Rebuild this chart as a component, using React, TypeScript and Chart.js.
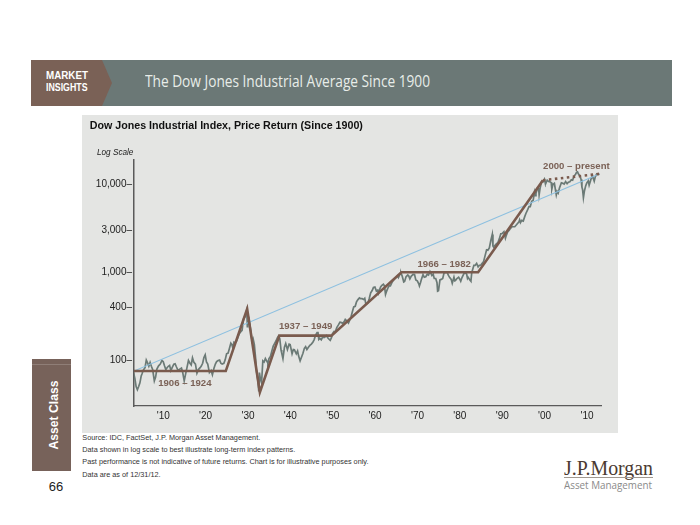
import React, { useEffect, useLayoutEffect, useRef } from "react";
import { Chart, registerables } from "chart.js";

Chart.register(...registerables);

// ---------- data ----------
const xTickYears = [1910, 1920, 1930, 1940, 1950, 1960, 1970, 1980, 1990, 2000, 2010];
const yTickValues = [100, 400, 1000, 3000, 10000];

// Dow Jones Industrial Average, [year, index level]
const dowPoints: [number, number][] = [
  [1903.0, 72], [1903.3, 62], [1903.6, 50], [1903.9, 46], [1904.2, 50], [1904.5, 55], [1904.8, 66],
  [1905.0, 70], [1905.3, 77], [1905.7, 82], [1906.0, 100], [1906.3, 93], [1906.6, 85], [1906.9, 94],
  [1907.2, 85], [1907.5, 78], [1907.9, 58], [1908.2, 64], [1908.5, 79], [1908.9, 86], [1909.3, 90],
  [1909.7, 99], [1910.0, 96], [1910.3, 86], [1910.6, 78], [1910.9, 82], [1911.2, 85], [1911.5, 87],
  [1911.8, 76], [1912.1, 82], [1912.5, 90], [1912.8, 91], [1913.1, 84], [1913.5, 76], [1913.9, 79],
  [1914.3, 81], [1914.6, 72], [1914.95, 58], [1915.3, 70], [1915.6, 82], [1915.95, 99], [1916.3, 92],
  [1916.6, 88], [1916.9, 106], [1917.2, 95], [1917.6, 90], [1917.95, 71], [1918.3, 78], [1918.7, 82],
  [1918.95, 85], [1919.3, 92], [1919.6, 107], [1919.9, 115], [1920.2, 95], [1920.5, 90], [1920.9, 72],
  [1921.3, 76], [1921.6, 68], [1921.95, 80], [1922.3, 90], [1922.6, 96], [1922.95, 99], [1923.3, 100],
  [1923.6, 92], [1923.9, 90], [1924.3, 92], [1924.6, 100], [1924.95, 118], [1925.3, 120], [1925.6, 135],
  [1925.95, 156], [1926.2, 150], [1926.4, 138], [1926.7, 160], [1926.95, 157], [1927.3, 165],
  [1927.6, 180], [1927.95, 200], [1928.3, 210], [1928.6, 218], [1928.95, 295], [1929.3, 310],
  [1929.7, 370], [1929.85, 240], [1929.95, 248], [1930.3, 285], [1930.6, 225], [1930.95, 165],
  [1931.2, 175], [1931.5, 150], [1931.8, 105], [1931.95, 78], [1932.3, 60], [1932.55, 44],
  [1932.7, 72], [1932.95, 60], [1933.2, 55], [1933.5, 98], [1933.8, 95], [1934.1, 104], [1934.5, 96],
  [1934.7, 92], [1934.95, 104], [1935.3, 110], [1935.6, 125], [1935.95, 144], [1936.3, 155],
  [1936.6, 165], [1936.95, 180], [1937.2, 188], [1937.5, 175], [1937.8, 130], [1937.95, 121],
  [1938.25, 104], [1938.6, 140], [1938.9, 154], [1939.3, 132], [1939.7, 152], [1939.95, 150],
  [1940.4, 118], [1940.7, 132], [1940.95, 131], [1941.4, 118], [1941.7, 127], [1941.95, 111],
  [1942.3, 98], [1942.6, 107], [1942.95, 119], [1943.3, 136], [1943.6, 142], [1943.9, 132],
  [1944.3, 141], [1944.6, 147], [1944.95, 152], [1945.3, 160], [1945.6, 170], [1945.95, 192],
  [1946.3, 205], [1946.5, 210], [1946.7, 172], [1946.95, 177], [1947.3, 170], [1947.6, 183],
  [1947.95, 181], [1948.3, 185], [1948.5, 190], [1948.9, 177], [1949.4, 168], [1949.7, 180],
  [1949.95, 200], [1950.3, 212], [1950.6, 210], [1950.95, 235], [1951.3, 250], [1951.7, 270],
  [1951.95, 269], [1952.3, 262], [1952.7, 275], [1952.95, 291], [1953.3, 280], [1953.7, 264],
  [1953.95, 281], [1954.3, 310], [1954.6, 350], [1954.95, 404], [1955.3, 410], [1955.6, 460],
  [1955.95, 488], [1956.3, 510], [1956.6, 500], [1956.95, 500], [1957.3, 490], [1957.55, 505],
  [1957.8, 440], [1957.95, 436], [1958.3, 450], [1958.6, 500], [1958.95, 584], [1959.3, 620],
  [1959.6, 670], [1959.95, 679], [1960.3, 610], [1960.6, 625], [1960.8, 580], [1960.95, 616],
  [1961.3, 680], [1961.6, 710], [1961.95, 731], [1962.2, 700], [1962.45, 560], [1962.6, 590],
  [1962.95, 652], [1963.3, 700], [1963.6, 700], [1963.95, 763], [1964.3, 810], [1964.6, 840],
  [1964.95, 874], [1965.3, 910], [1965.5, 870], [1965.95, 969], [1966.1, 985], [1966.4, 900],
  [1966.75, 775], [1966.95, 786], [1967.3, 890], [1967.7, 930], [1967.95, 905], [1968.2, 840],
  [1968.5, 900], [1968.95, 944], [1969.3, 940], [1969.6, 820], [1969.95, 800], [1970.3, 740],
  [1970.45, 700], [1970.7, 760], [1970.95, 839], [1971.3, 940], [1971.6, 880], [1971.95, 890],
  [1972.3, 950], [1972.6, 930], [1972.95, 1020], [1973.05, 1000], [1973.4, 920], [1973.7, 950],
  [1973.95, 850], [1974.3, 850], [1974.6, 760], [1974.75, 610], [1974.95, 616], [1975.3, 820],
  [1975.6, 830], [1975.95, 852], [1976.3, 1000], [1976.6, 990], [1976.95, 1005], [1977.3, 920],
  [1977.6, 870], [1977.95, 831], [1978.2, 750], [1978.6, 880], [1978.8, 800], [1978.95, 805],
  [1979.3, 850], [1979.7, 880], [1979.95, 839], [1980.2, 790], [1980.5, 870], [1980.95, 964],
  [1981.3, 990], [1981.6, 950], [1981.8, 850], [1981.95, 875], [1982.4, 810], [1982.6, 790],
  [1982.8, 990], [1982.95, 1047], [1983.3, 1200], [1983.6, 1200], [1983.95, 1259], [1984.3, 1150],
  [1984.6, 1200], [1984.95, 1212], [1985.3, 1270], [1985.6, 1330], [1985.95, 1547], [1986.3, 1800],
  [1986.6, 1780], [1986.95, 1896], [1987.3, 2300], [1987.65, 2700], [1987.8, 1990], [1987.95, 1939],
  [1988.3, 2030], [1988.6, 2100], [1988.95, 2169], [1989.3, 2400], [1989.65, 2750], [1989.95, 2753],
  [1990.4, 2900], [1990.75, 2450], [1990.95, 2634], [1991.3, 2900], [1991.6, 3000], [1991.95, 3169],
  [1992.3, 3300], [1992.6, 3300], [1992.95, 3301], [1993.3, 3450], [1993.6, 3600], [1993.95, 3754],
  [1994.1, 3950], [1994.3, 3680], [1994.6, 3900], [1994.95, 3834], [1995.3, 4300], [1995.6, 4700],
  [1995.95, 5117], [1996.3, 5600], [1996.6, 5600], [1996.95, 6448], [1997.3, 6600], [1997.6, 8200],
  [1997.8, 7450], [1997.95, 7908], [1998.3, 9000], [1998.6, 8900], [1998.7, 7600], [1998.95, 9181],
  [1999.3, 10800], [1999.6, 10700], [1999.95, 11497], [2000.05, 11000], [2000.2, 10100],
  [2000.6, 11200], [2000.95, 10787], [2001.3, 10700], [2001.55, 10500], [2001.7, 8850],
  [2001.95, 10021], [2002.3, 10300], [2002.55, 8700], [2002.75, 7600], [2002.95, 8342],
  [2003.2, 7990], [2003.5, 9100], [2003.95, 10453], [2004.3, 10300], [2004.6, 10100],
  [2004.95, 10783], [2005.3, 10200], [2005.6, 10600], [2005.95, 10718], [2006.3, 11300],
  [2006.6, 11200], [2006.95, 12463], [2007.3, 13100], [2007.55, 13800], [2007.75, 13930],
  [2007.95, 13265], [2008.3, 12600], [2008.6, 11400], [2008.8, 9300], [2008.95, 8776],
  [2009.15, 7060], [2009.4, 8500], [2009.7, 9700], [2009.95, 10428], [2010.3, 11000],
  [2010.5, 9800], [2010.95, 11578], [2011.3, 12500], [2011.7, 10900], [2011.95, 12218],
  [2012.3, 13200], [2012.6, 13000], [2012.95, 13104],
];

// Secular bull / bear trend segments
const secularTrendPoints: [number, number][] = [
  [1903.1, 75], [1924.75, 75], [1929.8, 383], [1932.8, 43], [1937.4, 190],
  [1949.7, 190], [1966.2, 1000], [1984.3, 1000], [1999.6, 11170],
];
const presentTrendPoints: [number, number][] = [[1999.6, 11170], [2012.9, 13200]];
const longTermTrendPoints: [number, number][] = [[1903.1, 75], [2012.9, 13200]];

const periodLabels = ["1906 – 1924", "1937 – 1949", "1966 – 1982", "2000 – present"];
const periodLabelAnchors: [number, number][] = [[1915.1, 54], [1943.6, 240], [1976.3, 1220], [2007.5, 16300]];

const footnotes = [
  "Source: IDC, FactSet, J.P. Morgan Asset Management.",
  "Data shown in log scale to best illustrate long-term index patterns.",
  "Past performance is not indicative of future returns. Chart is for illustrative purposes only.",
  "Data are as of 12/31/12.",
];

// ---------- helpers ----------
const SANS = "'Liberation Sans', Arial, Helvetica, sans-serif";
const BROWN = "#7a5b4e";

const toXY = (pts: [number, number][]) => pts.map(([x, y]) => ({ x, y }));
const withCommas = (v: number) => String(Math.round(v)).replace(/\B(?=(\d{3})+(?!\d))/g, ",");

function FitText(props: {
  text: string; left: number; cy: number; width: number; size: number; style?: React.CSSProperties;
}) {
  const { text, left, cy, width, size, style } = props;
  const ref = useRef<HTMLSpanElement>(null);
  useLayoutEffect(() => {
    const el = ref.current;
    if (!el) return;
    el.style.transform = "none";
    const w = el.getBoundingClientRect().width;
    if (w > 0) el.style.transform = `scaleX(${width / w})`;
  }, [text, width, size]);
  return (
    <span
      ref={ref}
      style={{
        position: "absolute", left, top: cy - size * 0.6, fontSize: size,
        lineHeight: `${size * 1.2}px`, whiteSpace: "nowrap", transformOrigin: "left center",
        ...style,
      }}
    >
      {text}
    </span>
  );
}

const periodLabelPlugin = {
  id: "periodLabels",
  afterDatasetsDraw(chart: any) {
    const { ctx, scales } = chart;
    const x = scales.x;
    const y = scales.y;
    ctx.save();
    ctx.font = `bold 9.6px ${SANS}`;
    ctx.fillStyle = "#7b6257";
    ctx.textAlign = "center";
    ctx.textBaseline = "middle";
    periodLabels.forEach((t, i) => {
      const [yr, v] = periodLabelAnchors[i];
      ctx.fillText(t, x.getPixelForValue(yr), y.getPixelForValue(v));
    });
    ctx.restore();
  },
};

function DowChart() {
  const canvasRef = useRef<HTMLCanvasElement>(null);
  useEffect(() => {
    if (!canvasRef.current) return;
    const chart = new Chart(canvasRef.current, {
      type: "line",
      data: {
        datasets: [
          { data: toXY(secularTrendPoints), borderColor: BROWN, borderWidth: 2.6, pointRadius: 0, tension: 0, order: 1 },
          { data: toXY(presentTrendPoints), borderColor: BROWN, borderWidth: 2.6, borderDash: [2.5, 3.5], pointRadius: 0, order: 1 },
          { data: toXY(longTermTrendPoints), borderColor: "#8dc0e0", borderWidth: 1.1, pointRadius: 0, order: 2 },
          { data: toXY(dowPoints), borderColor: "#6b7a76", borderWidth: 1.7, pointRadius: 0, tension: 0, order: 3 },
        ],
      } as any,
      options: {
        animation: false,
        responsive: false,
        maintainAspectRatio: false,
        layout: { padding: { left: 0, top: 45, right: 17, bottom: 0 } },
        plugins: { legend: { display: false }, tooltip: { enabled: false }, title: { display: false } },
        scales: {
          x: {
            type: "linear",
            min: 1903.1,
            max: 2013.3,
            afterBuildTicks: (s: any) => { s.ticks = xTickYears.map((v) => ({ value: v })); },
            afterFit: (s: any) => { s.height = 27; },
            ticks: {
              callback: (v: any) => "'" + String(v).slice(2),
              color: "#222",
              font: { family: SANS, size: 10 },
              padding: 4,
              maxRotation: 0,
              autoSkip: false,
            },
            grid: { display: false, drawTicks: false },
            border: { display: true, color: "#5a5a5a", width: 1.3 },
          },
          y: {
            type: "logarithmic",
            min: 30,
            max: 19000,
            afterBuildTicks: (s: any) => { s.ticks = yTickValues.map((v) => ({ value: v })); },
            afterFit: (s: any) => { s.width = 52; },
            ticks: {
              callback: (v: any) => withCommas(Number(v)) + "–",
              color: "#222",
              font: { family: SANS, size: 10 },
              padding: 2,
              autoSkip: false,
            },
            grid: { display: false, drawTicks: false },
            border: { display: true, color: "#5a5a5a", width: 1.5 },
          },
        },
      } as any,
      plugins: [periodLabelPlugin],
    });
    return () => chart.destroy();
  }, []);
  return <canvas ref={canvasRef} width={536} height={318} style={{ position: "absolute", left: 0, top: 0, width: 536, height: 318 }} />;
}

export default function App() {
  return (
    <div style={{ position: "absolute", left: 0, top: 0, width: 700, height: 525, background: "#fff", overflow: "hidden", fontFamily: SANS }}>
      {/* header bar */}
      <div style={{ position: "absolute", left: 31, top: 60, width: 641, height: 46, background: "#6b7876" }} />
      <div
        style={{
          position: "absolute", left: 31, top: 60, width: 81, height: 46, background: "#7a6156",
          clipPath: "polygon(0 0, 71px 0, 81px 50%, 71px 100%, 0 100%)",
        }}
      />
      <FitText text="MARKET" left={46} cy={76} width={42} size={10} style={{ color: "#fff", fontWeight: "bold" }} />
      <FitText text="INSIGHTS" left={46} cy={88} width={41.5} size={10} style={{ color: "#fff", fontWeight: "bold" }} />
      <FitText
        text="The Dow Jones Industrial Average Since 1900"
        left={144.5} cy={82} width={285} size={16}
        style={{ color: "#e8ede9", fontFamily: "'Open Sans', 'Noto Sans', sans-serif" }}
      />

      {/* chart panel */}
      <div style={{ position: "absolute", left: 82, top: 115, width: 536, height: 318, background: "#e4e5e3" }}>
        <DowChart />
      </div>
      <span style={{ position: "absolute", left: 89.7, top: 125.6 - 6.5, fontSize: 10.7, lineHeight: "13px", fontWeight: "bold", color: "#111", whiteSpace: "nowrap" }}>
        Dow Jones Industrial Index, Price Return (Since 1900)
      </span>
      <span style={{ position: "absolute", left: 97, top: 152.6 - 5, fontSize: 8.2, lineHeight: "10px", fontStyle: "italic", color: "#222", whiteSpace: "nowrap" }}>
        Log Scale
      </span>

      {/* side tab */}
      <div style={{ position: "absolute", left: 31.7, top: 359, width: 39.3, height: 112, background: "#77625a" }}>
        <div style={{ position: "absolute", left: 0, top: 5, width: "100%", height: 1, background: "rgba(255,255,255,0.18)" }} />
        <span
          style={{
            position: "absolute", left: "56%", top: "50%", transform: "translate(-50%, -50%) rotate(-90deg)",
            color: "#fff", fontWeight: "bold", fontSize: 12.2, whiteSpace: "nowrap", lineHeight: "14px",
          }}
        >
          Asset Class
        </span>
      </div>
      <span style={{ position: "absolute", left: 40, width: 32, textAlign: "center", top: 486.7 - 8, fontSize: 13, lineHeight: "16px", color: "#222" }}>
        66
      </span>

      {/* footnotes */}
      {footnotes.map((t, i) => (
        <span
          key={i}
          style={{ position: "absolute", left: 82.3, top: 437.2 + i * 12.3 - 4.5, fontSize: 7.3, lineHeight: "9px", color: "#333", whiteSpace: "nowrap" }}
        >
          {t}
        </span>
      ))}

      {/* logo */}
      <FitText
        text="J.P.Morgan" left={564} cy={468} width={89} size={20}
        style={{ color: "#4b3a31", fontFamily: "'Liberation Serif', 'DejaVu Serif', serif" }}
      />
      <div style={{ position: "absolute", left: 564, top: 476.5, width: 89, height: 1, background: "#a09890" }} />
      <FitText
        text="Asset Management" left={564} cy={484.5} width={88} size={11}
        style={{ color: "#8a8a8a", fontFamily: "'Open Sans', 'Noto Sans', sans-serif" }}
      />
    </div>
  );
}
